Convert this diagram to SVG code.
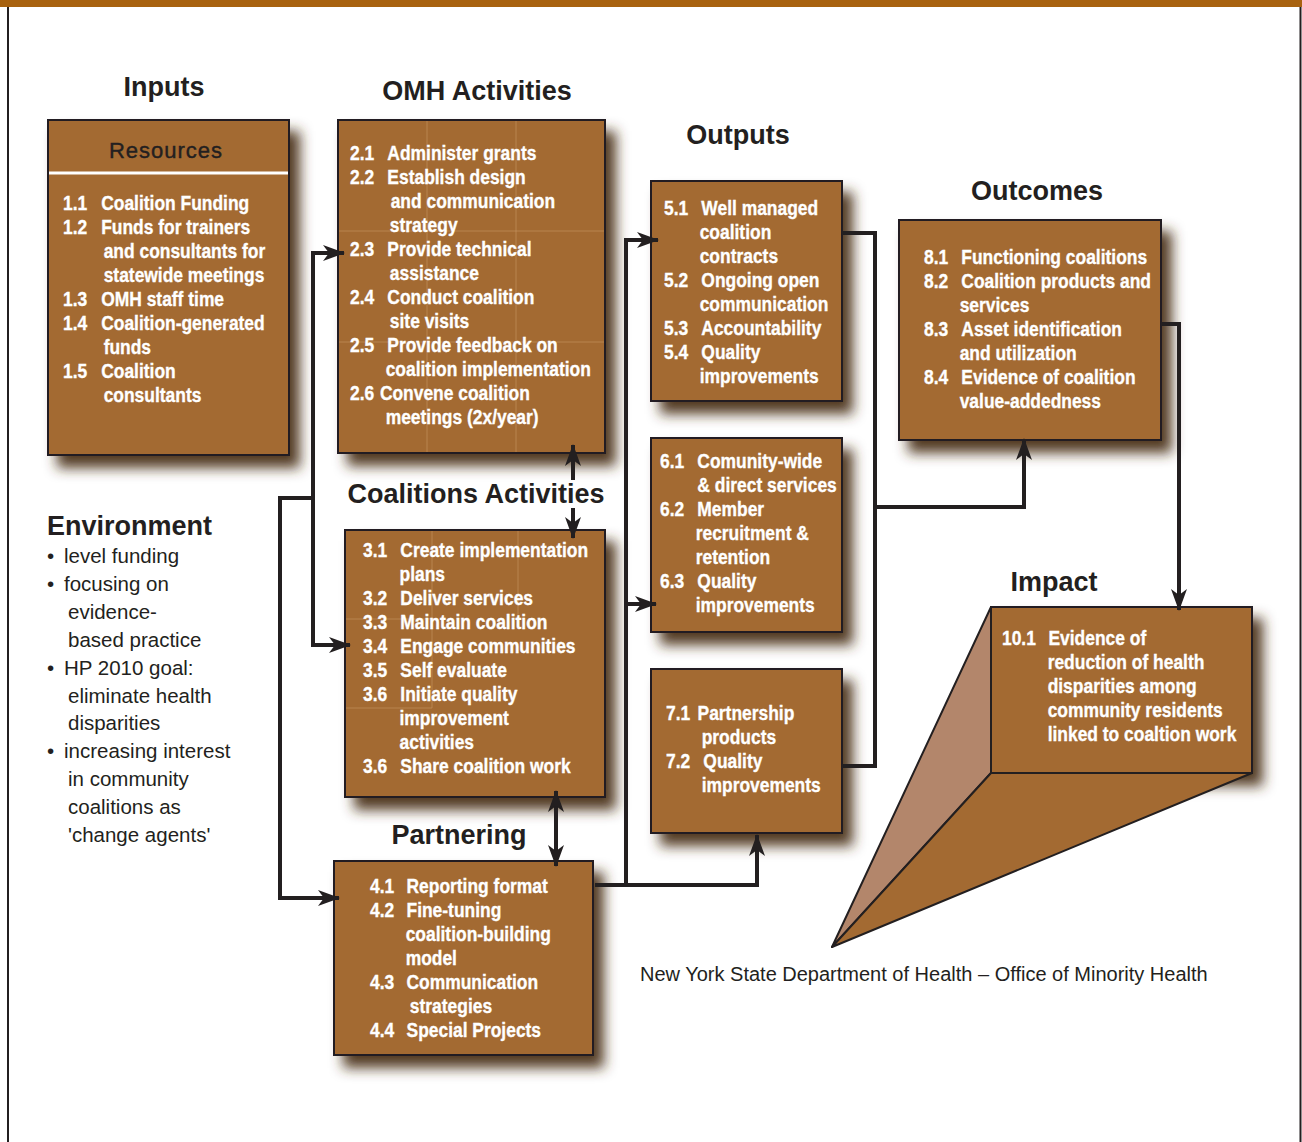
<svg xmlns="http://www.w3.org/2000/svg" width="1302" height="1142" viewBox="0 0 1302 1142">
<style>
.box{fill:#A36A32;stroke:#231F20;stroke-width:2}
.grid{stroke:#C99A68;stroke-width:1;opacity:.55}
.bt{font-family:"Liberation Sans",Arial,sans-serif;font-weight:bold;font-size:21px;fill:#FFFFFF;stroke:#FFFFFF;stroke-width:0.35}
.title{font-family:"Liberation Sans",Arial,sans-serif;font-weight:bold;font-size:27px;fill:#231F20}
.env{font-family:"Liberation Sans",Arial,sans-serif;font-size:20.5px;fill:#231F20}
.con{fill:none;stroke:#231F20;stroke-width:4}
</style>
<defs>
<filter id="sh" x="-20%" y="-20%" width="150%" height="150%">
<feGaussianBlur in="SourceAlpha" stdDeviation="6.5"/>
<feOffset dx="10" dy="12" result="b"/>
<feFlood flood-color="#4A3118" flood-opacity="0.95"/>
<feComposite in2="b" operator="in"/>
<feMerge><feMergeNode/><feMergeNode in="SourceGraphic"/></feMerge>
</filter>
<marker id="ar" markerUnits="userSpaceOnUse" markerWidth="22" markerHeight="16" viewBox="0 0 22 16" refX="21" refY="8" orient="auto-start-reverse">
<path d="M0,0 L22,8 L0,16 L6,8 z" fill="#231F20"/>
</marker>
</defs>
<rect x="0" y="0" width="1302" height="1142" fill="#FFFFFF"/>
<rect x="0" y="0" width="1302" height="7" fill="#A8620F"/>
<line x1="8" y1="7" x2="8" y2="1142" stroke="#231F20" stroke-width="2"/>
<line x1="1300.5" y1="7" x2="1300.5" y2="1142" stroke="#231F20" stroke-width="2"/>

<g id="titles">
<text class="title" x="164" y="96" text-anchor="middle">Inputs</text>
<text class="title" x="477" y="100" text-anchor="middle">OMH Activities</text>
<text class="title" x="738" y="144" text-anchor="middle">Outputs</text>
<text class="title" x="1037" y="200" text-anchor="middle">Outcomes</text>
<text class="title" x="476" y="503" text-anchor="middle">Coalitions Activities</text>
<text class="title" x="459" y="844" text-anchor="middle">Partnering</text>
<text class="title" x="1054" y="591" text-anchor="middle">Impact</text>
</g>

<g id="resources">
<rect class="box" x="48" y="120" width="241" height="335" filter="url(#sh)"/>
<text x="166" y="158" text-anchor="middle" font-family="Liberation Sans, Arial, sans-serif" font-size="22" letter-spacing="1" fill="#231F20" stroke="#231F20" stroke-width="0.4">Resources</text>
<line x1="49" y1="173" x2="288" y2="173" stroke="#FFFFFF" stroke-width="3"/>
<text class="bt" transform="translate(63 0) scale(0.83 1)">
<tspan x="0" y="210">1.1</tspan><tspan x="46" y="210">Coalition Funding</tspan>
<tspan x="0" y="234">1.2</tspan><tspan x="46" y="234">Funds for trainers</tspan>
<tspan x="49" y="258">and consultants for</tspan>
<tspan x="49" y="282">statewide meetings</tspan>
<tspan x="0" y="306">1.3</tspan><tspan x="46" y="306">OMH staff time</tspan>
<tspan x="0" y="330">1.4</tspan><tspan x="46" y="330">Coalition-generated</tspan>
<tspan x="49" y="354">funds</tspan>
<tspan x="0" y="378">1.5</tspan><tspan x="46" y="378">Coalition</tspan>
<tspan x="49" y="402">consultants</tspan>
</text>
</g>

<g id="environment">
<text class="title" x="47" y="535">Environment</text>
<text class="env">
<tspan x="47" y="563">•</tspan><tspan x="64" y="563">level funding</tspan>
<tspan x="47" y="591">•</tspan><tspan x="64" y="591">focusing on</tspan>
<tspan x="68" y="619">evidence-</tspan>
<tspan x="68" y="647">based practice</tspan>
<tspan x="47" y="675">•</tspan><tspan x="64" y="675">HP 2010 goal:</tspan>
<tspan x="68" y="703">eliminate health</tspan>
<tspan x="68" y="730">disparities</tspan>
<tspan x="47" y="758">•</tspan><tspan x="64" y="758">increasing interest</tspan>
<tspan x="68" y="786">in community</tspan>
<tspan x="68" y="814">coalitions as</tspan>
<tspan x="68" y="842">'change agents'</tspan>
</text>
</g>

<g id="omh">
<rect class="box" x="338" y="120" width="267" height="333" filter="url(#sh)"/>
<line class="grid" x1="427" y1="121" x2="427" y2="452"/>
<line class="grid" x1="516" y1="121" x2="516" y2="452"/>
<line class="grid" x1="339" y1="231" x2="604" y2="231"/>
<line class="grid" x1="339" y1="342" x2="604" y2="342"/>
<text class="bt" transform="translate(350 0) scale(0.83 1)">
<tspan x="0" y="160">2.1</tspan><tspan x="45" y="160">Administer grants</tspan>
<tspan x="0" y="184">2.2</tspan><tspan x="45" y="184">Establish design</tspan>
<tspan x="49" y="208">and communication</tspan>
<tspan x="48" y="232">strategy</tspan>
<tspan x="0" y="256">2.3</tspan><tspan x="45" y="256">Provide technical</tspan>
<tspan x="48" y="280">assistance</tspan>
<tspan x="0" y="304">2.4</tspan><tspan x="45" y="304">Conduct coalition</tspan>
<tspan x="48" y="328">site visits</tspan>
<tspan x="0" y="352">2.5</tspan><tspan x="45" y="352">Provide feedback on</tspan>
<tspan x="43" y="376">coalition implementation</tspan>
<tspan x="0" y="400">2.6</tspan><tspan x="36" y="400">Convene coalition</tspan>
<tspan x="43" y="424">meetings (2x/year)</tspan>
</text>
</g>

<g id="coalitions">
<rect class="box" x="345" y="530" width="260" height="267" filter="url(#sh)"/>
<line class="grid" x1="432" y1="531" x2="432" y2="708"/>
<line class="grid" x1="518" y1="531" x2="518" y2="620"/>
<line class="grid" x1="346" y1="619" x2="432" y2="619"/>
<line class="grid" x1="346" y1="708" x2="432" y2="708"/>
<text class="bt" transform="translate(363 0) scale(0.83 1)">
<tspan x="0" y="557">3.1</tspan><tspan x="45" y="557">Create implementation</tspan>
<tspan x="44" y="581">plans</tspan>
<tspan x="0" y="605">3.2</tspan><tspan x="45" y="605">Deliver services</tspan>
<tspan x="0" y="629">3.3</tspan><tspan x="45" y="629">Maintain coalition</tspan>
<tspan x="0" y="653">3.4</tspan><tspan x="45" y="653">Engage communities</tspan>
<tspan x="0" y="677">3.5</tspan><tspan x="45" y="677">Self evaluate</tspan>
<tspan x="0" y="701">3.6</tspan><tspan x="45" y="701">Initiate quality</tspan>
<tspan x="44" y="725">improvement</tspan>
<tspan x="44" y="749">activities</tspan>
<tspan x="0" y="773">3.6</tspan><tspan x="45" y="773">Share coalition work</tspan>
</text>
</g>

<g id="partnering">
<rect class="box" x="334" y="861" width="259" height="194" filter="url(#sh)"/>
<text class="bt" transform="translate(370 0) scale(0.83 1)">
<tspan x="0" y="893">4.1</tspan><tspan x="44" y="893">Reporting format</tspan>
<tspan x="0" y="917">4.2</tspan><tspan x="44" y="917">Fine-tuning</tspan>
<tspan x="43" y="941">coalition-building</tspan>
<tspan x="43" y="965">model</tspan>
<tspan x="0" y="989">4.3</tspan><tspan x="44" y="989">Communication</tspan>
<tspan x="48" y="1013">strategies</tspan>
<tspan x="0" y="1037">4.4</tspan><tspan x="44" y="1037">Special Projects</tspan>
</text>
</g>

<g id="output5">
<rect class="box" x="651" y="181" width="191" height="220" filter="url(#sh)"/>
<text class="bt" transform="translate(664 0) scale(0.83 1)">
<tspan x="0" y="215">5.1</tspan><tspan x="45" y="215">Well managed</tspan>
<tspan x="43" y="239">coalition</tspan>
<tspan x="43" y="263">contracts</tspan>
<tspan x="0" y="287">5.2</tspan><tspan x="45" y="287">Ongoing open</tspan>
<tspan x="43" y="311">communication</tspan>
<tspan x="0" y="335">5.3</tspan><tspan x="45" y="335">Accountability</tspan>
<tspan x="0" y="359">5.4</tspan><tspan x="45" y="359">Quality</tspan>
<tspan x="43" y="383">improvements</tspan>
</text>
</g>

<g id="output6">
<rect class="box" x="651" y="438" width="191" height="194" filter="url(#sh)"/>
<text class="bt" transform="translate(660 0) scale(0.83 1)">
<tspan x="0" y="468">6.1</tspan><tspan x="45" y="468">Comunity-wide</tspan>
<tspan x="45" y="492">&amp; direct services</tspan>
<tspan x="0" y="516">6.2</tspan><tspan x="45" y="516">Member</tspan>
<tspan x="43" y="540">recruitment &amp;</tspan>
<tspan x="43" y="564">retention</tspan>
<tspan x="0" y="588">6.3</tspan><tspan x="45" y="588">Quality</tspan>
<tspan x="43" y="612">improvements</tspan>
</text>
</g>

<g id="output7">
<rect class="box" x="651" y="669" width="191" height="164" filter="url(#sh)"/>
<text class="bt" transform="translate(666 0) scale(0.83 1)">
<tspan x="0" y="720">7.1</tspan><tspan x="38" y="720">Partnership</tspan>
<tspan x="43" y="744">products</tspan>
<tspan x="0" y="768">7.2</tspan><tspan x="45" y="768">Quality</tspan>
<tspan x="43" y="792">improvements</tspan>
</text>
</g>

<g id="outcomes">
<rect class="box" x="899" y="220" width="262" height="220" filter="url(#sh)"/>
<text class="bt" transform="translate(924 0) scale(0.83 1)">
<tspan x="0" y="264">8.1</tspan><tspan x="45" y="264">Functioning coalitions</tspan>
<tspan x="0" y="288">8.2</tspan><tspan x="45" y="288">Coalition products and</tspan>
<tspan x="43" y="312">services</tspan>
<tspan x="0" y="336">8.3</tspan><tspan x="45" y="336">Asset identification</tspan>
<tspan x="43" y="360">and utilization</tspan>
<tspan x="0" y="384">8.4</tspan><tspan x="45" y="384">Evidence of coalition</tspan>
<tspan x="43" y="408">value-addedness</tspan>
</text>
</g>

<g id="impact">
<rect class="box" x="991" y="607" width="261" height="166" filter="url(#sh)"/>
<polygon points="832,947 991,607 991,773" fill="#B3866B" stroke="#231F20" stroke-width="2" stroke-linejoin="round"/>
<polygon points="832,947 991,773 1252,773" fill="#A36A32" stroke="#231F20" stroke-width="2" stroke-linejoin="round"/>
<text class="bt" transform="translate(1002 0) scale(0.83 1)">
<tspan x="0" y="645">10.1</tspan><tspan x="56" y="645">Evidence of</tspan>
<tspan x="55" y="669">reduction of health</tspan>
<tspan x="55" y="693">disparities among</tspan>
<tspan x="55" y="717">community residents</tspan>
<tspan x="55" y="741">linked to coaltion work</tspan>
</text>
</g>

<g id="connectors">
<path class="con" d="M313,251 V647"/>
<path class="con" d="M313,253 H344" marker-end="url(#ar)"/>
<path class="con" d="M313,645 H350" marker-end="url(#ar)"/>
<path class="con" d="M313,498 H280 V898 H339" marker-end="url(#ar)"/>
<path class="con" stroke-width="3" d="M573,480 V445" marker-end="url(#ar)"/>
<path class="con" stroke-width="3" d="M573,508 V538" marker-end="url(#ar)"/>
<path class="con" stroke-width="5" d="M556,791 V866" marker-start="url(#ar)" marker-end="url(#ar)"/>
<path class="con" d="M595,885 H757 V835" marker-end="url(#ar)"/>
<path class="con" d="M626,887 V240 H658" marker-end="url(#ar)"/>
<path class="con" d="M626,604 H656" marker-end="url(#ar)"/>
<path class="con" d="M842,233 H875 V766 H842"/>
<path class="con" d="M875,507 H1024 V439" marker-end="url(#ar)"/>
<path class="con" d="M1161,324 H1179 V610" marker-end="url(#ar)"/>
</g>

<text x="640" y="981" font-family="Liberation Sans, Arial, sans-serif" font-size="20" fill="#231F20">New York State Department of Health – Office of Minority Health</text>
</svg>
